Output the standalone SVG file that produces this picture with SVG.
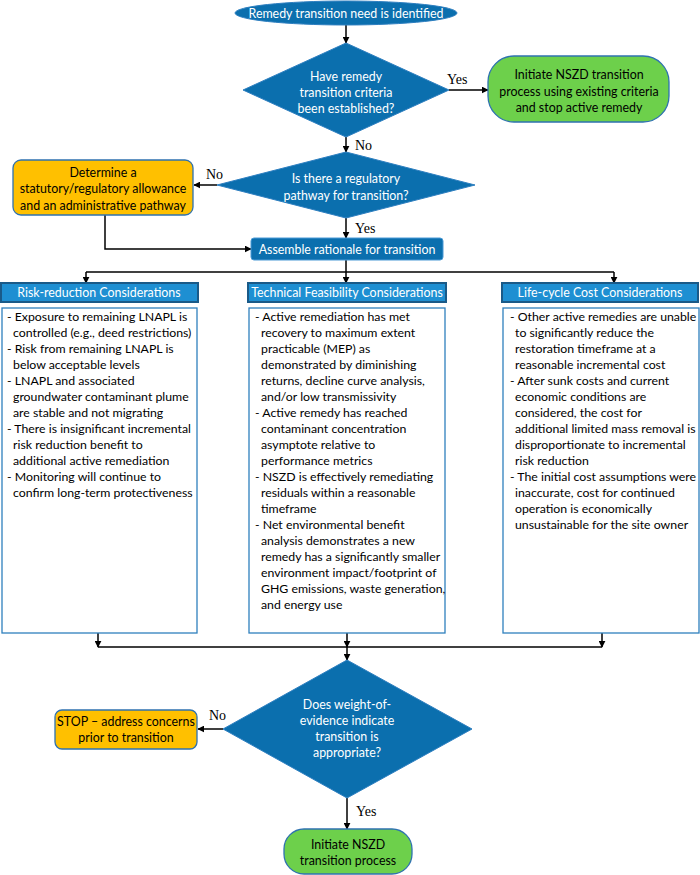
<svg xmlns="http://www.w3.org/2000/svg" width="700" height="875" viewBox="0 0 700 875">
<defs>
<marker id="ah" viewBox="0 0 10 10" refX="9" refY="5" markerWidth="7" markerHeight="7" markerUnits="userSpaceOnUse" orient="auto"><path d="M0,0 L10,5 L0,10 z" fill="#000"/></marker>
<style>
.blue{fill:#0b6fae;stroke:#2e7fc0;stroke-width:1}
.green{fill:#6dd04b;stroke:#2f72b0;stroke-width:1.3}
.orange{fill:#ffc000;stroke:#2f72b0;stroke-width:1.3}
.hdr{fill:#1e8fd2;stroke:#1a5a88;stroke-width:2}
.content{fill:#fff;stroke:#2f80bd;stroke-width:1.3}
text{font-family:Lato,"Liberation Sans",sans-serif;font-size:12.4px}
.w{fill:#fff;text-anchor:middle}
.k{fill:#000;text-anchor:middle}
.b{fill:#000;font-size:12.3px}
.lbl{font-family:"Liberation Serif","Times New Roman",serif;font-size:14px;fill:#000}
.c{fill:none;stroke:#000;stroke-width:1.5}
</style>
</defs>
<g id="connectors">
<line class="c" x1="346" y1="25" x2="346" y2="43" marker-end="url(#ah)"/>
<line class="c" x1="449" y1="90" x2="488" y2="90" marker-end="url(#ah)"/>
<line class="c" x1="346" y1="137" x2="346" y2="152" marker-end="url(#ah)"/>
<line class="c" x1="217" y1="185" x2="194" y2="185" marker-end="url(#ah)"/>
<line class="c" x1="346" y1="218" x2="346" y2="238" marker-end="url(#ah)"/>
<polyline class="c" points="105,215 105,249 251,249" marker-end="url(#ah)"/>
<line class="c" x1="346" y1="260" x2="346" y2="272"/>
<line class="c" x1="86" y1="272" x2="614" y2="272"/>
<line class="c" x1="86" y1="272" x2="86" y2="283" marker-end="url(#ah)"/>
<line class="c" x1="346" y1="272" x2="346" y2="283" marker-end="url(#ah)"/>
<line class="c" x1="614" y1="272" x2="614" y2="283" marker-end="url(#ah)"/>
<line class="c" x1="98" y1="633" x2="98" y2="647" marker-end="url(#ah)"/>
<line class="c" x1="347" y1="633" x2="347" y2="647" marker-end="url(#ah)"/>
<line class="c" x1="602" y1="633" x2="602" y2="647" marker-end="url(#ah)"/>
<line class="c" x1="98" y1="647" x2="602" y2="647"/>
<line class="c" x1="347" y1="647" x2="347" y2="660" marker-end="url(#ah)"/>
<line class="c" x1="223" y1="729" x2="198" y2="729" marker-end="url(#ah)"/>
<line class="c" x1="347" y1="798" x2="347" y2="829" marker-end="url(#ah)"/>
<text class="lbl" x="447" y="84">Yes</text>
<text class="lbl" x="355" y="150">No</text>
<text class="lbl" x="206" y="179">No</text>
<text class="lbl" x="355" y="233">Yes</text>
<text class="lbl" x="209" y="720">No</text>
<text class="lbl" x="356" y="816">Yes</text>
</g>
<g id="start">
<ellipse class="blue" cx="346" cy="13" rx="111" ry="12"/>
<text class="w" x="346" y="18">Remedy transition need is identified</text>
</g>
<g id="q1">
<polygon class="blue" points="346,43 449,90 346,137 243,90"/>
<text class="w" x="346" y="81">Have remedy</text>
<text class="w" x="346" y="97">transition criteria</text>
<text class="w" x="346" y="113">been established?</text>
</g>
<g id="initiate1">
<rect class="green" x="488" y="56" width="181" height="66" rx="26"/>
<text class="k" x="579" y="79">Initiate NSZD transition</text>
<text class="k" x="579" y="96">process using existing criteria</text>
<text class="k" x="579" y="112">and stop active remedy</text>
</g>
<g id="q2">
<polygon class="blue" points="346,152 475,185 346,218 217,185"/>
<text class="w" x="346" y="183">Is there a regulatory</text>
<text class="w" x="346" y="200">pathway for transition?</text>
</g>
<g id="determine">
<rect class="orange" x="13" y="160" width="180" height="55" rx="8"/>
<text class="k" x="103" y="177">Determine a</text>
<text class="k" x="103" y="193">statutory/regulatory allowance</text>
<text class="k" x="103" y="210">and an administrative pathway</text>
</g>
<g id="assemble">
<rect class="blue" x="251" y="238" width="192" height="22" rx="3" style="stroke:#4a9ad6"/>
<text class="w" x="347" y="253.5">Assemble rationale for transition</text>
</g>
<g id="risk">
<rect class="hdr" x="1" y="283" width="197" height="19"/>
<text class="w" x="99" y="297">Risk-reduction Considerations</text>
<rect class="content" x="2" y="308" width="195" height="325"/>
<text class="b" x="7" y="321">- Exposure to remaining LNAPL is</text>
<text class="b" x="13" y="337">controlled (e.g., deed restrictions)</text>
<text class="b" x="7" y="353">- Risk from remaining LNAPL is</text>
<text class="b" x="13" y="369">below acceptable levels</text>
<text class="b" x="7" y="385">- LNAPL and associated</text>
<text class="b" x="13" y="401">groundwater contaminant plume</text>
<text class="b" x="13" y="417">are stable and not migrating</text>
<text class="b" x="7" y="433">- There is insignificant incremental</text>
<text class="b" x="13" y="449">risk reduction benefit to</text>
<text class="b" x="13" y="465">additional active remediation</text>
<text class="b" x="7" y="481">- Monitoring will continue to</text>
<text class="b" x="13" y="497">confirm long-term protectiveness</text>
</g>
<g id="technical">
<rect class="hdr" x="248" y="283" width="198" height="19"/>
<text class="w" x="347" y="297">Technical Feasibility Considerations</text>
<rect class="content" x="249" y="308" width="196" height="325"/>
<text class="b" x="255" y="321">- Active remediation has met</text>
<text class="b" x="261" y="337">recovery to maximum extent</text>
<text class="b" x="261" y="353">practicable (MEP) as</text>
<text class="b" x="261" y="369">demonstrated by diminishing</text>
<text class="b" x="261" y="385">returns, decline curve analysis,</text>
<text class="b" x="261" y="401">and/or low transmissivity</text>
<text class="b" x="255" y="417">- Active remedy has reached</text>
<text class="b" x="261" y="433">contaminant concentration</text>
<text class="b" x="261" y="449">asymptote relative to</text>
<text class="b" x="261" y="465">performance metrics</text>
<text class="b" x="255" y="481">- NSZD is effectively remediating</text>
<text class="b" x="261" y="497">residuals within a reasonable</text>
<text class="b" x="261" y="513">timeframe</text>
<text class="b" x="255" y="529">- Net environmental benefit</text>
<text class="b" x="261" y="545">analysis demonstrates a new</text>
<text class="b" x="261" y="561">remedy has a significantly smaller</text>
<text class="b" x="261" y="577">environment impact/footprint of</text>
<text class="b" x="261" y="593">GHG emissions, waste generation,</text>
<text class="b" x="261" y="609">and energy use</text>
</g>
<g id="lifecycle">
<rect class="hdr" x="502" y="283" width="196" height="19"/>
<text class="w" x="600" y="297">Life-cycle Cost Considerations</text>
<rect class="content" x="503" y="308" width="196" height="325"/>
<text class="b" x="510" y="321">- Other active remedies are unable</text>
<text class="b" x="515" y="337">to significantly reduce the</text>
<text class="b" x="515" y="353">restoration timeframe at a</text>
<text class="b" x="515" y="369">reasonable incremental cost</text>
<text class="b" x="510" y="385">- After sunk costs and current</text>
<text class="b" x="515" y="401">economic conditions are</text>
<text class="b" x="515" y="417">considered, the cost for</text>
<text class="b" x="515" y="433">additional limited mass removal is</text>
<text class="b" x="515" y="449">disproportionate to incremental</text>
<text class="b" x="515" y="465">risk reduction</text>
<text class="b" x="510" y="481">- The initial cost assumptions were</text>
<text class="b" x="515" y="497">inaccurate, cost for continued</text>
<text class="b" x="515" y="513">operation is economically</text>
<text class="b" x="515" y="529">unsustainable for the site owner</text>
</g>
<g id="q3">
<polygon class="blue" points="347,660 472,729 347,798 223,729"/>
<text class="w" x="347" y="709">Does weight-of-</text>
<text class="w" x="347" y="725">evidence indicate</text>
<text class="w" x="347" y="741">transition is</text>
<text class="w" x="347" y="757">appropriate?</text>
</g>
<g id="stop">
<rect class="orange" x="55" y="710" width="142" height="39" rx="7"/>
<text class="k" x="126" y="726">STOP – address concerns</text>
<text class="k" x="126" y="742">prior to transition</text>
</g>
<g id="initiate2">
<rect class="green" x="284" y="829" width="128" height="45" rx="20"/>
<text class="k" x="348" y="849">Initiate NSZD</text>
<text class="k" x="348" y="865">transition process</text>
</g>
</svg>
